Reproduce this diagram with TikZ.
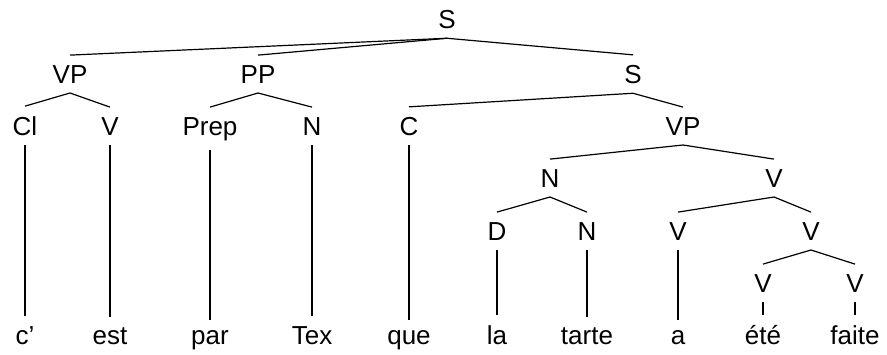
\documentclass[tikz,border=0pt]{standalone}
\usepackage{fontspec}
\setmainfont{Liberation Sans}
\begin{document}
\begin{tikzpicture}[x=1pt,y=-1pt,
  lbl/.style={font=\fontsize{26}{30}\selectfont, anchor=base,
              inner xsep=2pt, inner ysep=10pt, outer sep=0pt},
  branch/.style={line width=1.2pt, black}]
\useasboundingbox (0,0) rectangle (887,354);

% phrase labels
\node[lbl] (s)    at (447,28)  {S};
\node[lbl] (vpa)  at (70,83)   {VP};
\node[lbl] (pp)   at (258,83)  {PP};
\node[lbl] (sb)   at (633,83)  {S};
\node[lbl] (cl)   at (25,135)  {Cl};
\node[lbl] (va)   at (110,135) {V};
\node[lbl] (prep) at (210,135) {Prep};
\node[lbl] (na)   at (312,135) {N};
\node[lbl] (c)    at (409,135) {C};
\node[lbl] (vpb)  at (683,135) {VP};
\node[lbl] (nb)   at (550,187) {N};
\node[lbl] (vb)   at (774,187) {V};
\node[lbl] (d)    at (497,240) {D};
\node[lbl] (nc)   at (587,240) {N};
\node[lbl] (vc)   at (678,240) {V};
\node[lbl] (vd)   at (811,240) {V};
\node[lbl] (ve)   at (763,292) {V};
\node[lbl] (vf)   at (855,292) {V};

% words
\node[lbl] (w1)  at (25,344)  {c’};
\node[lbl] (w2)  at (110,344) {est};
\node[lbl] (w3)  at (210,344) {par};
\node[lbl] (w4)  at (312,344) {Tex};
\node[lbl] (w5)  at (409,344) {que};
\node[lbl] (w6)  at (497,344) {la};
\node[lbl] (w7)  at (587,344) {tarte};
\node[lbl] (w8)  at (678,344) {a};
\node[lbl] (w9)  at (763,344) {été};
\node[lbl] (w10) at (855,344) {faite};

% branches
\foreach \p/\k in {s/vpa, s/pp, s/sb,
                   vpa/cl, vpa/va, pp/prep, pp/na, sb/c, sb/vpb,
                   cl/w1, va/w2, prep/w3, na/w4, c/w5,
                   vpb/nb, vpb/vb, nb/d, nb/nc, vb/vc, vb/vd,
                   d/w6, nc/w7, vc/w8, vd/ve, vd/vf, ve/w9, vf/w10}
  \draw[branch] (\p.south) -- (\k.north);
\end{tikzpicture}
\end{document}
